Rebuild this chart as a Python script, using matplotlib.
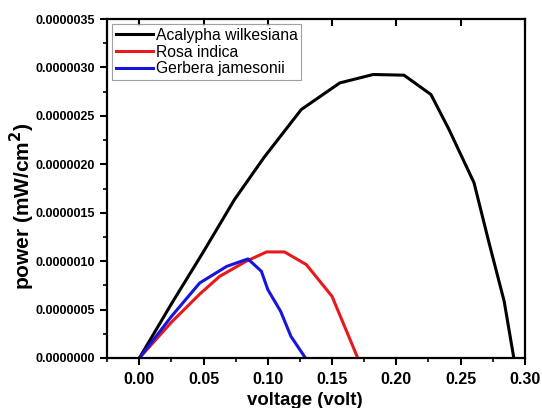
import matplotlib
matplotlib.use("Agg")
import matplotlib.pyplot as plt
from matplotlib.ticker import MultipleLocator, FormatStrFormatter

plt.rcParams['font.family'] = ['Liberation Sans', 'DejaVu Sans']

# Acalypha wilkesiana
v_aw = [0.0, 0.025, 0.05, 0.074, 0.097, 0.126, 0.156, 0.182, 0.206, 0.227, 0.241, 0.2605, 0.272, 0.284, 0.2915]
p_aw = [0.0, 0.56e-6, 1.1e-6, 1.635e-6, 2.07e-6, 2.565e-6, 2.84e-6, 2.927e-6, 2.92e-6, 2.72e-6, 2.36e-6, 1.81e-6, 1.2e-6, 0.585e-6, 0.0]

# Rosa indica
v_ri = [0.0, 0.025, 0.047, 0.0625, 0.083, 0.099, 0.113, 0.13, 0.15, 0.170]
p_ri = [0.0, 0.37e-6, 0.66e-6, 0.843e-6, 0.998e-6, 1.095e-6, 1.095e-6, 0.964e-6, 0.636e-6, 0.0]

# Gerbera jamesonii
v_gj = [0.0, 0.025, 0.047, 0.068, 0.0845, 0.095, 0.100, 0.110, 0.118, 0.1293]
p_gj = [0.0, 0.43e-6, 0.775e-6, 0.946e-6, 1.023e-6, 0.895e-6, 0.706e-6, 0.481e-6, 0.223e-6, 0.0]

fig = plt.figure(figsize=(5.42, 4.08), dpi=100)
ax = fig.add_axes([107/542, 1-358/408, (525-107)/542, (358-19)/408])

ax.plot(v_aw, p_aw, color='black', lw=2.2, label='Acalypha wilkesiana')
ax.plot(v_ri, p_ri, color='#e8191d', lw=2.2, label='Rosa indica')
ax.plot(v_gj, p_gj, color='#1515e0', lw=2.2, label='Gerbera jamesonii')

ax.set_xlim(-0.0252, 0.3002)
ax.set_ylim(0, 3.5e-6)

ax.xaxis.set_major_locator(MultipleLocator(0.05))
ax.xaxis.set_minor_locator(MultipleLocator(0.025))
ax.yaxis.set_major_locator(MultipleLocator(0.5e-6))
ax.yaxis.set_minor_locator(MultipleLocator(0.25e-6))
ax.xaxis.set_major_formatter(FormatStrFormatter('%.2f'))
ax.yaxis.set_major_formatter(FormatStrFormatter('%.7f'))

for s in ax.spines.values():
    s.set_linewidth(1.6)
ax.tick_params(axis='both', which='major', direction='out', length=5, width=1.5)
ax.tick_params(axis='both', which='minor', direction='out', length=3, width=1.2)
ax.tick_params(axis='x', which='major', labelsize=11.5, pad=5)
ax.tick_params(axis='y', which='major', labelsize=9)
for lab in ax.get_xticklabels() + ax.get_yticklabels():
    lab.set_fontweight('bold')

# top ticks point inward
sec = ax.secondary_xaxis('top')
sec.xaxis.set_major_locator(MultipleLocator(0.05))
sec.tick_params(direction='in', length=5, width=1.5, labeltop=False)
sec.spines['top'].set_visible(False)

ax.set_xlabel('voltage (volt)', fontsize=13.4, fontweight='bold', va='center')
ax.xaxis.set_label_coords(0.474, -0.124)
ax.set_ylabel('power (mW/cm$^\\mathbf{2}$)', fontsize=15, fontweight='bold', va='center')
ax.yaxis.set_label_coords(-0.202, 0.448)

leg = ax.legend(loc='upper left', fontsize=11.3, frameon=True, fancybox=False,
                handlelength=2.4, handletextpad=0.15, borderpad=0.2, labelspacing=0.12,
                borderaxespad=0.35)
leg.get_frame().set_edgecolor('#888888')
leg.get_frame().set_linewidth(0.8)

fig.savefig('out.png', dpi=100)
